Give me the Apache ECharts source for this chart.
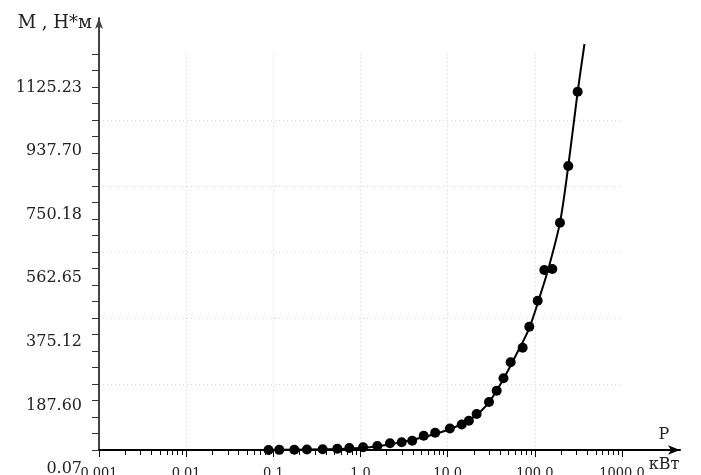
<!DOCTYPE html>
<html>
<head>
<meta charset="utf-8">
<script src="https://cdn.jsdelivr.net/npm/echarts@6/dist/echarts.min.js"></script>
<style>
html,body{margin:0;padding:0;background:#fff;}
#chart{width:701px;height:475px;}
</style>
</head>
<body>
<div id="chart"></div>
<script>
// ---- data ----
const xTickValues = [0.001, 0.01, 0.1, 1, 10, 100, 1000];
const xTickLabels = ['0.001', '0.01', '0.1', '1.0', '10.0', '100.0', '1000.0'];
const yTickLabels = ['0.07', '187.60', '375.12', '562.65', '750.18', '937.70', '1125.23'];

// measured points (P, kW ; M, N*m)
const pointP = [0.088, 0.117, 0.174, 0.243, 0.368, 0.542, 0.744, 1.07, 1.56, 2.18, 2.97, 3.92, 5.31, 7.19, 10.6,
                14.5, 17.5, 21.5, 29.8, 36.5, 43.7, 52.8, 72.5, 86.4, 107.8, 128.4, 158.6, 194.3, 242, 310];
const pointM = [0.07, 0.4, 0.9, 1.5, 2.6, 4.0, 6.0, 8.5, 12.6, 21.0, 24.5, 29.2, 44.6, 54.3, 67.5,
                80.1, 92.0, 113.1, 150.7, 186.2, 225.2, 275.4, 321.3, 387.2, 468.9, 565.3, 568.4, 713.8, 891.9, 1125.23];

// fitted curve
const curveP = [0.001, 0.01, 0.1, 1, 3, 10, 20, 30, 43.7, 60.8, 86.4, 114.6, 141.6, 194.3, 242, 310, 371];
const curveM = [0, 0.05, 0.5, 6, 25, 63, 104, 151, 223, 298, 383, 484, 565, 714, 892, 1125, 1275];

// ---- chart ----
const serif = 'DejaVu Serif, Liberation Serif, serif';
const minorTickValues = [];
for (let d = 0; d < xTickValues.length - 1; d++) {
  for (let k = 2; k <= 9; k++) minorTickValues.push(k * xTickValues[d]);
}

const chart = echarts.init(document.getElementById('chart'));
chart.setOption({
  backgroundColor: '#fff',
  animation: false,
  grid: [
    {left: 99, top: 54, width: 523, height: 396, outerBoundsMode: 'none', containLabel: false},
    {left: 99, top: 18, right: 21, bottom: 25, outerBoundsMode: 'none', containLabel: false}
  ],
  xAxis: [
    {
      type: 'log', logBase: 10, gridIndex: 0, position: 'bottom',
      min: 0.001, max: 1000, splitNumber: 6,
      axisLine: {show: false},
      axisTick: {show: true, length: 7, inside: false, lineStyle: {color: '#000', width: 1}},
      axisLabel: {
        show: true, margin: 17, fontSize: 13, fontFamily: serif, color: '#222',
        formatter: v => {
          let best = 0;
          xTickValues.forEach((t, i) => { if (Math.abs(Math.log10(t) - Math.log10(v)) < Math.abs(Math.log10(xTickValues[best]) - Math.log10(v))) best = i; });
          return xTickLabels[best];
        }
      },
      splitLine: {show: true, showMinLine: false, showMaxLine: false, lineStyle: {color: '#d6d6d6', type: [1, 3], width: 1}}
    },
    {
      type: 'log', logBase: 10, gridIndex: 0, position: 'bottom',
      min: 0.001, max: 1000,
      axisLine: {show: false},
      axisTick: {show: true, length: 5, customValues: minorTickValues, lineStyle: {color: '#000', width: 1}},
      axisLabel: {show: false},
      splitLine: {show: false}
    },
    {
      type: 'value', gridIndex: 1, position: 'bottom', min: 0, max: 1,
      axisLine: {show: true, symbol: ['none', 'arrow'], symbolSize: [7, 12], lineStyle: {color: '#000', width: 2}},
      axisTick: {show: false}, axisLabel: {show: false}, splitLine: {show: false},
      name: 'Р\n\nкВт', nameLocation: 'end', nameGap: -16,
      nameTextStyle: {fontFamily: serif, fontSize: 16, color: '#222', align: 'center', verticalAlign: 'middle', lineHeight: 15}
    }
  ],
  yAxis: [
    {
      type: 'value', gridIndex: 0, position: 'left', min: 0, max: 1243.6, interval: 207.27,
      axisLine: {show: false},
      axisTick: {show: true, length: 7, lineStyle: {color: '#333', width: 1}},
      minorTick: {show: true, splitNumber: 4, length: 7, lineStyle: {color: '#333', width: 1}},
      axisLabel: {show: false},
      splitLine: {show: true, showMinLine: false, showMaxLine: false, lineStyle: {color: '#d6d6d6', type: [1, 3], width: 1}}
    },
    {
      type: 'value', gridIndex: 0, position: 'left', min: 0.07, max: 1167.7,
      axisLine: {show: false}, axisTick: {show: false}, splitLine: {show: false},
      axisLabel: {
        show: true, customValues: yTickLabels.map(Number), margin: 17,
        fontSize: 16, fontFamily: serif, color: '#222',
        verticalAlign: 'top', padding: [11, 0, 0, 0],
        formatter: v => v.toFixed(2)
      }
    },
    {
      type: 'value', gridIndex: 1, position: 'left', min: 0, max: 1,
      axisLine: {show: true, symbol: ['none', 'arrow'], symbolSize: [6, 11], lineStyle: {color: '#444', width: 2}},
      axisTick: {show: false}, axisLabel: {show: false}, splitLine: {show: false},
      name: 'М , Н*м', nameLocation: 'end', nameGap: -5,
      nameTextStyle: {fontFamily: serif, fontSize: 18, color: '#222', align: 'right', verticalAlign: 'middle', padding: [0, 7, 0, 0]}
    }
  ],
  series: [
    {
      type: 'line', xAxisIndex: 0, yAxisIndex: 0,
      data: curveP.map((p, i) => [p, curveM[i]]),
      smooth: 0.3, showSymbol: false, symbol: 'none', clip: false,
      lineStyle: {color: '#000', width: 2}, z: 3
    },
    {
      type: 'scatter', xAxisIndex: 0, yAxisIndex: 0,
      data: pointP.map((p, i) => [p, pointM[i]]),
      symbol: 'circle', symbolSize: 10,
      itemStyle: {color: '#000', opacity: 1}, z: 4
    }
  ]
});
</script>
</body>
</html>
